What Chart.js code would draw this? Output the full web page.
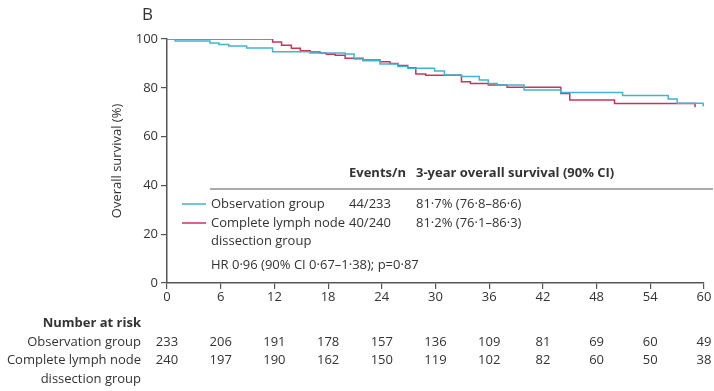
<!DOCTYPE html>
<html>
<head>
<meta charset="utf-8">
<script src="https://cdn.jsdelivr.net/npm/chart.js@4.4.1/dist/chart.umd.min.js"></script>
<style>
  html, body { margin: 0; padding: 0; background: #fff; }
  #wrap { width: 714px; height: 391px; }
</style>
</head>
<body>
<div id="wrap"><canvas id="c" width="714" height="391"></canvas></div>
<script>
// ---- data ----
const xTicks = [0, 6, 12, 18, 24, 30, 36, 42, 48, 54, 60];
const yTicks = [0, 20, 40, 60, 80, 100];

const obsTimes = [0, 0.9, 4.8, 5.8, 6.9, 8.9, 11.8, 16, 19.9, 20.9, 21.9, 23.8, 25.8, 26.9, 29.9, 31, 32.9, 34.9, 35.9, 36.9, 39.9, 44, 50.9, 56, 57, 59.9, 60];
const obsSurv  = [100, 99.2, 98.4, 97.7, 97.1, 96.3, 94.8, 94.3, 93.9, 91.8, 91.1, 89.8, 88.7, 88.0, 86.9, 85.2, 84.6, 83.2, 81.8, 81.1, 79.1, 78.1, 76.8, 75.4, 73.7, 72.7, 72.7];

const clndTimes = [0, 11.8, 12.8, 13.9, 14.9, 16, 17.1, 17.8, 18.8, 19.9, 21.9, 23.8, 24.9, 25.8, 26.9, 27.8, 28.9, 32.9, 33.9, 35.9, 38, 44, 45, 50, 59, 59];
const clndSurv  = [100, 98.8, 97.4, 96.2, 95.2, 94.7, 94.3, 93.7, 93.3, 92.1, 91.4, 90.7, 90.0, 89.1, 88.2, 85.7, 85.1, 82.5, 81.8, 81.1, 80.2, 77.7, 75.0, 73.6, 72.0, 72.0];

const riskTimes = [0, 6, 12, 18, 24, 30, 36, 42, 48, 54, 60];
const obsRisk  = [233, 206, 191, 178, 157, 136, 109, 81, 69, 60, 49];
const clndRisk = [240, 197, 190, 162, 150, 119, 102, 82, 60, 50, 38];

const seriesNames = ['Observation group', 'Complete lymph node dissection group'];
const eventsN = ['44/233', '40/240'];
const survText = ['81·7% (76·8–86·6)', '81·2% (76·1–86·3)'];
const hrText = 'HR 0·96 (90% CI 0·67–1·38); p=0·87';

const BLUE = '#41b5cf';
const RED = '#c4375b';
const TXT = '#333333';
const AX = '#555555';
const FONT = '"Open Sans", "Noto Sans", sans-serif';

function pts(t, s) { return t.map((v, i) => ({ x: v, y: s[i] })); }

const textPlugin = {
  id: 'texts',
  afterDraw(chart) {
    const ctx = chart.ctx;
    const xs = chart.scales.x;
    ctx.save();
    ctx.fillStyle = TXT;
    ctx.textBaseline = 'middle';
    // panel letter
    ctx.font = '17px ' + FONT;
    ctx.textAlign = 'left';
    ctx.fillText('B', 142, 15);
    // y title
    ctx.save();
    ctx.translate(117, 161);
    ctx.rotate(-Math.PI / 2);
    ctx.textAlign = 'center';
    ctx.font = '13px ' + FONT;
    ctx.fillText('Overall survival (%)', 0, 0);
    ctx.restore();
    // legend table
    ctx.font = 'bold 13px ' + FONT;
    ctx.textAlign = 'left';
    ctx.fillText('Events/n', 349, 173);
    ctx.fillText('3-year overall survival (90% CI)', 416, 173);
    ctx.strokeStyle = AX;
    ctx.lineWidth = 1.2;
    ctx.beginPath(); ctx.moveTo(210, 189); ctx.lineTo(713, 189); ctx.stroke();
    ctx.font = '13px ' + FONT;
    const rowY = [204, 223];
    const cols = [BLUE, RED];
    const nameLines = [['Observation group'], ['Complete lymph node', 'dissection group']];
    for (let i = 0; i < 2; i++) {
      ctx.strokeStyle = cols[i];
      ctx.lineWidth = 1.5;
      ctx.beginPath(); ctx.moveTo(182, rowY[i]); ctx.lineTo(206, rowY[i]); ctx.stroke();
      ctx.fillText(nameLines[i][0], 211, rowY[i]);
      ctx.fillText(eventsN[i], 349, rowY[i]);
      ctx.fillText(survText[i], 416, rowY[i]);
    }
    ctx.fillText(nameLines[1][1], 211, 241);
    ctx.fillText(hrText, 211, 265);
    // number at risk
    ctx.textAlign = 'right';
    ctx.font = 'bold 13px ' + FONT;
    ctx.fillText('Number at risk', 141, 323);
    ctx.font = '13px ' + FONT;
    ctx.fillText('Observation group', 141, 342);
    ctx.fillText('Complete lymph node', 141, 360);
    ctx.fillText('dissection group', 141, 379);
    ctx.textAlign = 'center';
    riskTimes.forEach((t, i) => {
      const px = xs.getPixelForValue(t);
      ctx.fillText(String(obsRisk[i]), px, 342);
      ctx.fillText(String(clndRisk[i]), px, 360);
    });
    ctx.restore();
  }
};

new Chart(document.getElementById('c'), {
  type: 'line',
  data: {
    datasets: [
      { label: seriesNames[0], data: pts(obsTimes, obsSurv), borderColor: BLUE, borderWidth: 1.5, stepped: true, pointRadius: 0, fill: false },
      { label: seriesNames[1], data: pts(clndTimes, clndSurv), borderColor: RED, borderWidth: 1.5, stepped: true, pointRadius: 0, fill: false }
    ]
  },
  options: {
    responsive: false,
    animation: false,
    events: [],
    layout: { padding: { left: 0, right: 10, top: 39, bottom: 0 } },
    plugins: { legend: { display: false }, tooltip: { enabled: false }, title: { display: false } },
    scales: {
      x: {
        type: 'linear', min: 0, max: 60,
        afterBuildTicks(s) { s.ticks = xTicks.map(v => ({ value: v })); },
        afterFit(s) { s.height = 108; },
        grid: { drawOnChartArea: false, drawTicks: true, tickLength: 6, color: AX, lineWidth: 1.2 },
        border: { display: true, color: AX, width: 1.5 },
        ticks: { color: TXT, font: { family: FONT, size: 13 }, padding: 0, maxRotation: 0, autoSkip: false }
      },
      y: {
        type: 'linear', min: 0, max: 100,
        afterBuildTicks(s) { s.ticks = yTicks.map(v => ({ value: v })); },
        afterFit(s) { s.width = 167; },
        grid: { drawOnChartArea: false, drawTicks: true, tickLength: 6, color: AX, lineWidth: 1.2 },
        border: { display: true, color: AX, width: 1.5 },
        ticks: { color: TXT, font: { family: FONT, size: 13 }, padding: 3 }
      }
    }
  },
  plugins: [textPlugin]
});
</script>
</body>
</html>
